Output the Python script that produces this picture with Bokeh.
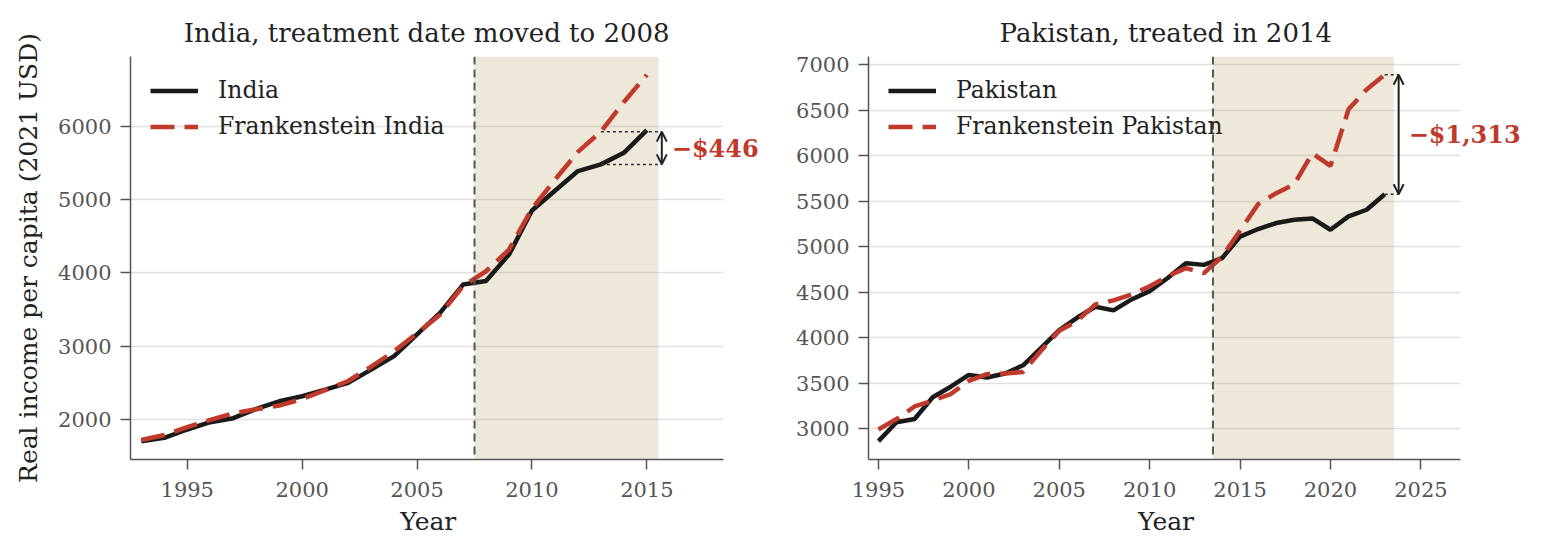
from bokeh.plotting import figure
from bokeh.models import (Range1d, BoxAnnotation, Span, Arrow, OpenHead, Label,
                          SingleIntervalTicker, Title)
from bokeh.layouts import row
from bokeh.embed import file_html
from bokeh.resources import INLINE

# ---------------- data ----------------
india_years = list(range(1993, 2016))
india_actual = [1705, 1750, 1864, 1964, 2018, 2145, 2249, 2317, 2408, 2500, 2680, 2865,
                3160, 3455, 3840, 3890, 4249, 4850, 5120, 5388, 5479, 5637, 5946]
india_frank = [1720, 1790, 1895, 1995, 2085, 2140, 2190, 2280, 2400, 2525, 2720, 2930,
               3175, 3430, 3820, 4022, 4317, 4875, 5270, 5650, 5925, 6330, 6700]
india_treat = 2008
india_gap_year = 2013

pak_years = list(range(1995, 2024))
pak_actual = [2862, 3069, 3105, 3344, 3460, 3590, 3562, 3605, 3696, 3888, 4083, 4221,
              4340, 4300, 4420, 4511, 4656, 4819, 4800, 4873, 5110, 5194, 5260, 5296,
              5311, 5186, 5333, 5406, 5577]
pak_frank = [2990, 3105, 3243, 3308, 3380, 3525, 3598, 3605, 3623, 3859, 4076, 4185,
             4366, 4410, 4475, 4565, 4674, 4764, 4710, 4890, 5175, 5468, 5588, 5687,
             6027, 5888, 6510, 6729, 6890]
pak_treat = 2014
pak_gap_year = 2023

# ---------------- style ----------------
FONT = "DejaVu Serif"
BLACK = "#1a1a1a"
RED = "#c0392b"
AXIS = "#555555"
TEXT = "#222222"


def make_panel(title, title_w, years, actual, frank, name, treat, gap_year, xlim, xview_max,
               px_per_year, yr, ystep, ylabel, mb_left, mb_right, arrow_dx):
    # the frame is extended to the right so the gap label is not clipped;
    # the visible axes stop at xlim[1]
    frame_w = int(round((xview_max - xlim[0]) * px_per_year))
    vis_w = (xlim[1] - xlim[0]) * px_per_year
    year_w = 53

    p = figure(frame_width=frame_w, frame_height=403,
               x_range=Range1d(xlim[0], xview_max), y_range=Range1d(*yr),
               output_backend="svg", toolbar_location=None,
               min_border_left=mb_left, min_border_right=mb_right,
               min_border_top=56, min_border_bottom=80)
    p.outline_line_color = None
    p.background_fill_color = "white"
    p.border_fill_color = "white"

    # title (centred over the visible axes)
    p.title = Title(text=title, text_font=FONT, text_font_size="26px",
                    text_font_style="normal", text_color=TEXT, align="left",
                    offset=(vis_w - title_w) / 2.0, standoff=18)

    # grid
    p.xgrid.visible = False
    p.ygrid.grid_line_color = "#e0e0e0"
    p.ygrid.grid_line_width = 1.5
    p.ygrid.cross_bounds = (xlim[0], xlim[1])

    # axes
    p.xaxis.ticker = SingleIntervalTicker(interval=5)
    p.yaxis.ticker = SingleIntervalTicker(interval=ystep)
    p.xaxis.bounds = (xlim[0], xlim[1])
    for ax in (p.xaxis[0], p.yaxis[0]):
        ax.axis_line_color = AXIS
        ax.axis_line_width = 1.5
        ax.major_tick_line_color = AXIS
        ax.major_tick_line_width = 1.5
        ax.major_tick_in = 0
        ax.major_tick_out = 10
        ax.minor_tick_line_color = None
        ax.major_label_text_font = FONT
        ax.major_label_text_font_size = "21px"
        ax.major_label_text_color = AXIS
        ax.axis_label_text_font = FONT
        ax.axis_label_text_font_size = "25px"
        ax.axis_label_text_font_style = "normal"
        ax.axis_label_text_color = TEXT
    p.xaxis.major_label_standoff = 12
    p.yaxis.major_label_standoff = 9
    if ylabel:
        p.yaxis.axis_label = ylabel
        p.yaxis.axis_label_standoff = 12
    # x-axis label, centred under the visible axis
    p.add_layout(Title(text="Year", text_font=FONT, text_font_size="25px",
                       text_font_style="normal", text_color=TEXT, align="left",
                       offset=(vis_w - year_w) / 2.0, standoff=10), "below")

    # post-treatment shading and treatment line
    start = treat - 0.5
    end = years[-1] + 0.5
    p.add_layout(BoxAnnotation(left=start, right=end, fill_color="#b9a46b", fill_alpha=0.25,
                               line_color=None, level="underlay"))
    p.add_layout(Span(location=start, dimension="height", line_color=AXIS,
                      line_dash="8 5", line_width=2))

    # series
    p.line(years, actual, line_color=BLACK, line_width=4.5, legend_label=name)
    p.line(years, frank, line_color=RED, line_width=4.5, line_dash="24 10",
           legend_label="Frankenstein " + name)

    # gap annotation
    i = years.index(gap_year)
    top, bot = frank[i], actual[i]
    gap = top - bot
    ax_x = years[-1] + arrow_dx
    p.segment(x0=[gap_year, gap_year], x1=[ax_x, ax_x], y0=[top, bot], y1=[top, bot],
              line_color="#333333", line_width=1.5, line_dash="3 3")
    p.add_layout(Arrow(x_start=ax_x, y_start=top, x_end=ax_x, y_end=bot,
                       line_color=TEXT, line_width=2,
                       start=OpenHead(size=10, line_color=TEXT, line_width=2),
                       end=OpenHead(size=10, line_color=TEXT, line_width=2)))
    p.add_layout(Label(x=ax_x, y=(top + bot) / 2, x_offset=10,
                       text="\u2212${:,}".format(gap), text_font=FONT,
                       text_font_size="24px", text_font_style="bold", text_color=RED,
                       text_align="left", text_baseline="middle"))

    # legend
    lg = p.legend[0]
    lg.location = "top_left"
    lg.border_line_color = None
    lg.background_fill_alpha = 0
    lg.margin = 20
    lg.padding = 10
    lg.glyph_width = 48
    lg.glyph_height = 25
    lg.label_height = 25
    lg.spacing = 8
    lg.label_standoff = 20
    lg.label_text_font = FONT
    lg.label_text_font_size = "23.5px"
    lg.label_text_color = TEXT
    return p


p1 = make_panel("India, treatment date moved to 2008", 486, india_years, india_actual,
                india_frank, "India", india_treat, india_gap_year, (1992.53, 2018.32),
                2020.38, 22.98, (1455, 6950), 1000, "Real income per capita (2021 USD)",
                130, 10, 0.65)
p2 = make_panel("Pakistan, treated in 2014", 330, pak_years, pak_actual, pak_frank,
                "Pakistan", pak_treat, pak_gap_year, (1994.45, 2027.2), 2030.73, 18.08,
                (2660, 7091), 500, None, 88, 5, 0.77)

layout = row(p1, p2)
open("out.html", "w").write(file_html(layout, INLINE))
